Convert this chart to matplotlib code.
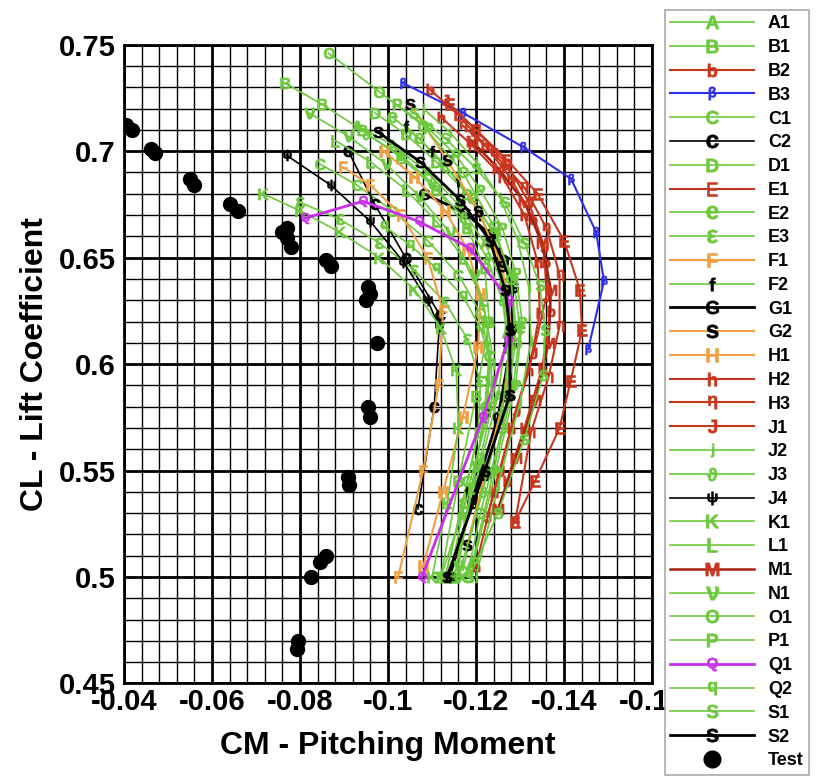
import numpy as np
import matplotlib
matplotlib.use("Agg")
import matplotlib.pyplot as plt
from matplotlib.ticker import MultipleLocator

plt.rcParams['font.family'] = ['Liberation Sans', 'DejaVu Sans']
plt.rcParams['font.weight'] = 'bold'
plt.rcParams['mathtext.default'] = 'regular'

# ---- data (CM, CL) ----
cm_a1 = [-0.093, -0.101, -0.109, -0.116, -0.122, -0.126, -0.127, -0.125, -0.120, -0.115]
cl_a1 = [0.712, 0.703, 0.690, 0.675, 0.657, 0.638, 0.615, 0.585, 0.545, 0.500]
cm_b1 = [-0.0766, -0.085, -0.094, -0.103, -0.111, -0.118, -0.122, -0.123, -0.120, -0.116, -0.112]
cl_b1 = [0.732, 0.722, 0.710, 0.697, 0.682, 0.664, 0.645, 0.620, 0.585, 0.545, 0.500]
cm_b2 = [-0.1095, -0.116, -0.122, -0.128, -0.133, -0.136, -0.137, -0.135, -0.131, -0.127]
cl_b2 = [0.729, 0.717, 0.703, 0.687, 0.668, 0.648, 0.625, 0.598, 0.570, 0.545]
cm_b3 = [-0.1034, -0.117, -0.1307, -0.1416, -0.1473, -0.1491, -0.1455]
cl_b3 = [0.732, 0.718, 0.702, 0.687, 0.662, 0.639, 0.607]
cm_c1 = [-0.0845, -0.093, -0.101, -0.109, -0.116, -0.121, -0.123, -0.122, -0.118, -0.113]
cl_c1 = [0.694, 0.684, 0.672, 0.658, 0.642, 0.624, 0.604, 0.580, 0.545, 0.500]
cm_c2 = [-0.091, -0.097, -0.104, -0.1118, -0.1105, -0.1068]
cl_c2 = [0.700, 0.675, 0.650, 0.623, 0.580, 0.532]
cm_d1 = [-0.097, -0.104, -0.111, -0.118, -0.124, -0.128, -0.129, -0.127, -0.122, -0.117]
cl_d1 = [0.718, 0.708, 0.695, 0.680, 0.662, 0.642, 0.618, 0.588, 0.548, 0.503]
cm_e1 = [-0.114, -0.120, -0.127, -0.134, -0.140, -0.1436, -0.1441, -0.1415, -0.139, -0.1334, -0.1289]
cl_e1 = [0.722, 0.710, 0.696, 0.680, 0.658, 0.635, 0.616, 0.592, 0.570, 0.545, 0.526]
cm_e2 = [-0.101, -0.107, -0.113, -0.119, -0.1245, -0.1285, -0.130, -0.1285, -0.124, -0.119]
cl_e2 = [0.716, 0.706, 0.693, 0.678, 0.660, 0.640, 0.617, 0.590, 0.550, 0.505]
cm_e3 = [-0.080, -0.089, -0.098, -0.106, -0.113, -0.118, -0.121, -0.1205, -0.117, -0.113]
cl_e3 = [0.676, 0.668, 0.657, 0.644, 0.629, 0.612, 0.592, 0.568, 0.535, 0.500]
cm_f1 = [-0.0898, -0.096, -0.103, -0.109, -0.1125, -0.1115, -0.108, -0.1023]
cl_f1 = [0.6925, 0.684, 0.670, 0.650, 0.625, 0.590, 0.550, 0.500]
cm_f2 = [-0.104, -0.110, -0.116, -0.121, -0.125, -0.127, -0.1265, -0.123, -0.118, -0.114]
cl_f2 = [0.712, 0.700, 0.686, 0.670, 0.652, 0.632, 0.608, 0.578, 0.540, 0.500]
cm_g1 = [-0.1082, -0.1175, -0.1232, -0.1261, -0.1284, -0.128, -0.125, -0.119, -0.114]
cl_g1 = [0.680, 0.671, 0.661, 0.649, 0.636, 0.610, 0.575, 0.535, 0.500]
cm_g2 = [-0.105, -0.1134, -0.1205, -0.126, -0.128, -0.1265, -0.122, -0.118]
cl_g2 = [0.722, 0.696, 0.672, 0.646, 0.617, 0.585, 0.548, 0.515]
cm_h1 = [-0.099, -0.106, -0.113, -0.118, -0.121, -0.1205, -0.117, -0.1125, -0.108]
cl_h1 = [0.700, 0.688, 0.672, 0.654, 0.633, 0.608, 0.575, 0.540, 0.505]
cm_h2 = [-0.112, -0.119, -0.126, -0.131, -0.134, -0.1345, -0.132, -0.128, -0.124, -0.120]
cl_h2 = [0.716, 0.703, 0.688, 0.670, 0.648, 0.624, 0.597, 0.570, 0.540, 0.505]
cm_h3 = [-0.117, -0.124, -0.131, -0.136, -0.139, -0.139, -0.1365, -0.1325, -0.1289]
cl_h3 = [0.712, 0.699, 0.683, 0.664, 0.642, 0.618, 0.594, 0.568, 0.526]
cm_j1 = [-0.113, -0.120, -0.127, -0.132, -0.1355, -0.136, -0.133, -0.129, -0.1255, -0.1225]
cl_j1 = [0.724, 0.710, 0.694, 0.676, 0.655, 0.632, 0.605, 0.578, 0.550, 0.528]
cm_j2 = [-0.108, -0.114, -0.120, -0.1255, -0.1295, -0.132, -0.1325, -0.130, -0.125, -0.120]
cl_j2 = [0.720, 0.709, 0.695, 0.678, 0.658, 0.636, 0.611, 0.582, 0.543, 0.500]
cm_j3 = [-0.095, -0.103, -0.110, -0.117, -0.1225, -0.126, -0.1275, -0.126, -0.1215, -0.116]
cl_j3 = [0.708, 0.698, 0.685, 0.669, 0.650, 0.630, 0.607, 0.578, 0.540, 0.500]
cm_j4 = [-0.077, -0.087, -0.096, -0.1035, -0.109, -0.1115]
cl_j4 = [0.698, 0.684, 0.667, 0.648, 0.630, 0.618]
cm_k1 = [-0.0716, -0.080, -0.089, -0.098, -0.106, -0.112, -0.1155, -0.116, -0.1135, -0.110]
cl_k1 = [0.680, 0.672, 0.662, 0.650, 0.635, 0.617, 0.597, 0.570, 0.535, 0.500]
cm_l1 = [-0.088, -0.096, -0.104, -0.111, -0.117, -0.1215, -0.1235, -0.1225, -0.119, -0.115]
cl_l1 = [0.705, 0.695, 0.682, 0.667, 0.650, 0.630, 0.608, 0.580, 0.542, 0.500]
cm_m1 = [-0.119, -0.125, -0.131, -0.135, -0.137, -0.1365, -0.1335, -0.129, -0.125]
cl_m1 = [0.705, 0.692, 0.676, 0.657, 0.635, 0.610, 0.583, 0.556, 0.532]
cm_n1 = [-0.082, -0.091, -0.0995, -0.107, -0.114, -0.1195, -0.1225, -0.123, -0.120, -0.116]
cl_n1 = [0.718, 0.707, 0.694, 0.679, 0.662, 0.642, 0.620, 0.592, 0.552, 0.505]
cm_o1 = [-0.0865, -0.098, -0.108, -0.117, -0.124, -0.128, -0.129, -0.126, -0.121, -0.118]
cl_o1 = [0.746, 0.728, 0.712, 0.690, 0.665, 0.640, 0.610, 0.570, 0.530, 0.500]
cm_p1 = [-0.102, -0.109, -0.1155, -0.121, -0.126, -0.129, -0.1305, -0.129, -0.1245, -0.1195]
cl_p1 = [0.722, 0.711, 0.698, 0.682, 0.664, 0.643, 0.620, 0.590, 0.550, 0.507]
cm_q1 = [-0.0811, -0.0943, -0.107, -0.1186, -0.1275, -0.1273, -0.1216, -0.1077]
cl_q1 = [0.6685, 0.6765, 0.667, 0.6545, 0.630, 0.6113, 0.5751, 0.500]
cm_q2 = [-0.099, -0.105, -0.111, -0.117, -0.121, -0.1235, -0.1235, -0.121, -0.1165, -0.112]
cl_q2 = [0.665, 0.656, 0.645, 0.632, 0.617, 0.600, 0.580, 0.556, 0.528, 0.500]
cm_s1 = [-0.106, -0.113, -0.120, -0.1265, -0.131, -0.1345, -0.1357, -0.1353, -0.131, -0.125, -0.1185]
cl_s1 = [0.718, 0.706, 0.692, 0.676, 0.657, 0.637, 0.616, 0.595, 0.565, 0.530, 0.500]
cm_s2 = [-0.0977, -0.1073, -0.1164, -0.1232, -0.1266, -0.1277, -0.1277, -0.122, -0.1134]
cl_s2 = [0.709, 0.695, 0.677, 0.658, 0.635, 0.616, 0.5855, 0.550, 0.500]

cm_test = [-0.0405, -0.0418, -0.0462, -0.0470, -0.0550, -0.0560, -0.0640, -0.0660,
           -0.0760, -0.0770, -0.0780, -0.0770, -0.0860, -0.0870, -0.0950, -0.0960,
           -0.0955, -0.0975, -0.0955, -0.0960, -0.0910, -0.0912, -0.0860, -0.0845,
           -0.0825, -0.0795, -0.0793]
cl_test = [0.7125, 0.7100, 0.7010, 0.6990, 0.6870, 0.6840, 0.6750, 0.6720,
           0.6620, 0.6590, 0.6550, 0.6640, 0.6490, 0.6460, 0.6300, 0.6330,
           0.6360, 0.6100, 0.5800, 0.5750, 0.5470, 0.5430, 0.5100, 0.5070,
           0.5000, 0.4700, 0.4660]

green = '#6cc83c'
red = '#c8361e'
darkred = '#a82010'
blue = '#3030e8'
orange = '#f0a040'
magenta = '#c830e8'

# name, cm, cl, line colour, marker, marker colour, line width
series = [
    ('A1', cm_a1, cl_a1, green, '$A$', green, 1.2),
    ('B1', cm_b1, cl_b1, green, '$B$', green, 1.2),
    ('B2', cm_b2, cl_b2, red, '$b$', red, 1.5),
    ('B3', cm_b3, cl_b3, blue, r'$\beta$', blue, 1.5),
    ('C1', cm_c1, cl_c1, green, '$C$', green, 1.2),
    ('C2', cm_c2, cl_c2, 'black', '$c$', 'black', 1.2),
    ('D1', cm_d1, cl_d1, green, '$D$', green, 1.2),
    ('E1', cm_e1, cl_e1, red, '$E$', red, 1.5),
    ('E2', cm_e2, cl_e2, green, '$e$', green, 1.2),
    ('E3', cm_e3, cl_e3, green, r'$\epsilon$', green, 1.2),
    ('F1', cm_f1, cl_f1, orange, '$F$', orange, 1.5),
    ('F2', cm_f2, cl_f2, green, '$f$', 'black', 1.2),
    ('G1', cm_g1, cl_g1, 'black', '$G$', 'black', 2.0),
    ('G2', cm_g2, cl_g2, orange, '$s$', 'black', 1.5),
    ('H1', cm_h1, cl_h1, orange, '$H$', orange, 1.5),
    ('H2', cm_h2, cl_h2, red, '$h$', red, 1.5),
    ('H3', cm_h3, cl_h3, red, r'$\eta$', red, 1.5),
    ('J1', cm_j1, cl_j1, red, '$J$', red, 1.5),
    ('J2', cm_j2, cl_j2, green, '$j$', green, 1.2),
    ('J3', cm_j3, cl_j3, green, r'$\vartheta$', green, 1.2),
    ('J4', cm_j4, cl_j4, 'black', r'$\psi$', 'black', 1.2),
    ('K1', cm_k1, cl_k1, green, '$K$', green, 1.2),
    ('L1', cm_l1, cl_l1, green, '$L$', green, 1.2),
    ('M1', cm_m1, cl_m1, darkred, '$M$', red, 1.8),
    ('N1', cm_n1, cl_n1, green, r'$\nu$', green, 1.2),
    ('O1', cm_o1, cl_o1, green, '$O$', green, 1.2),
    ('P1', cm_p1, cl_p1, green, '$P$', green, 1.2),
    ('Q1', cm_q1, cl_q1, magenta, '$Q$', magenta, 2.0),
    ('Q2', cm_q2, cl_q2, green, '$q$', green, 1.2),
    ('S1', cm_s1, cl_s1, green, '$S$', green, 1.2),
    ('S2', cm_s2, cl_s2, 'black', '$s$', 'black', 2.0),
]

fig = plt.figure(figsize=(8.16, 7.79), dpi=100)
ax = fig.add_axes([0.152, 0.1226, 0.647, 0.820])

handles = []
for name, cm, cl, col, mk, mcol, lw in series:
    h, = ax.plot(cm, cl, color=col, lw=lw, marker=mk, markersize=8,
                 markerfacecolor=mcol, markeredgecolor=mcol, markeredgewidth=0.4,
                 label=name, zorder=3)
    handles.append(h)
ht, = ax.plot(cm_test, cl_test, 'o', color='black', markersize=10, ls='none',
              label='Test', zorder=4)
handles.append(ht)

ax.set_xlim(-0.04, -0.16)
ax.set_ylim(0.45, 0.75)
ax.set_xticks([-0.04, -0.06, -0.08, -0.10, -0.12, -0.14, -0.16])
ax.set_xticklabels(['-0.04', '-0.06', '-0.08', '-0.1', '-0.12', '-0.14', '-0.16'])
ax.set_yticks([0.45, 0.50, 0.55, 0.60, 0.65, 0.70, 0.75])
ax.set_yticklabels(['0.45', '0.5', '0.55', '0.6', '0.65', '0.7', '0.75'])
ax.xaxis.set_minor_locator(MultipleLocator(0.004))
ax.yaxis.set_minor_locator(MultipleLocator(0.01))
ax.grid(which='major', color='black', lw=2.0)
ax.grid(which='minor', color='black', lw=1.0)
ax.set_axisbelow(True)
ax.tick_params(which='both', length=0, labelsize=21)
ax.tick_params(axis='y', pad=6)
ax.tick_params(axis='x', pad=3)
for s in ax.spines.values():
    s.set_linewidth(2)

ax.set_xlabel('CM - Pitching Moment', fontsize=23, fontweight='bold', labelpad=11)
ax.set_ylabel('CL - Lift Coefficient', fontsize=23, fontweight='bold', labelpad=6)

leg = fig.legend(handles=handles, loc='upper left', bbox_to_anchor=(656 / 816, 1 - 1 / 779),
                 numpoints=1, markerscale=1.2, fontsize=13, handlelength=4.6,
                 handletextpad=0.8, labelspacing=0.375, borderpad=0.3,
                 fancybox=False, framealpha=1, edgecolor='#aaaaaa')
leg.get_frame().set_linewidth(1.2)

fig.savefig('out.png', dpi=100)
